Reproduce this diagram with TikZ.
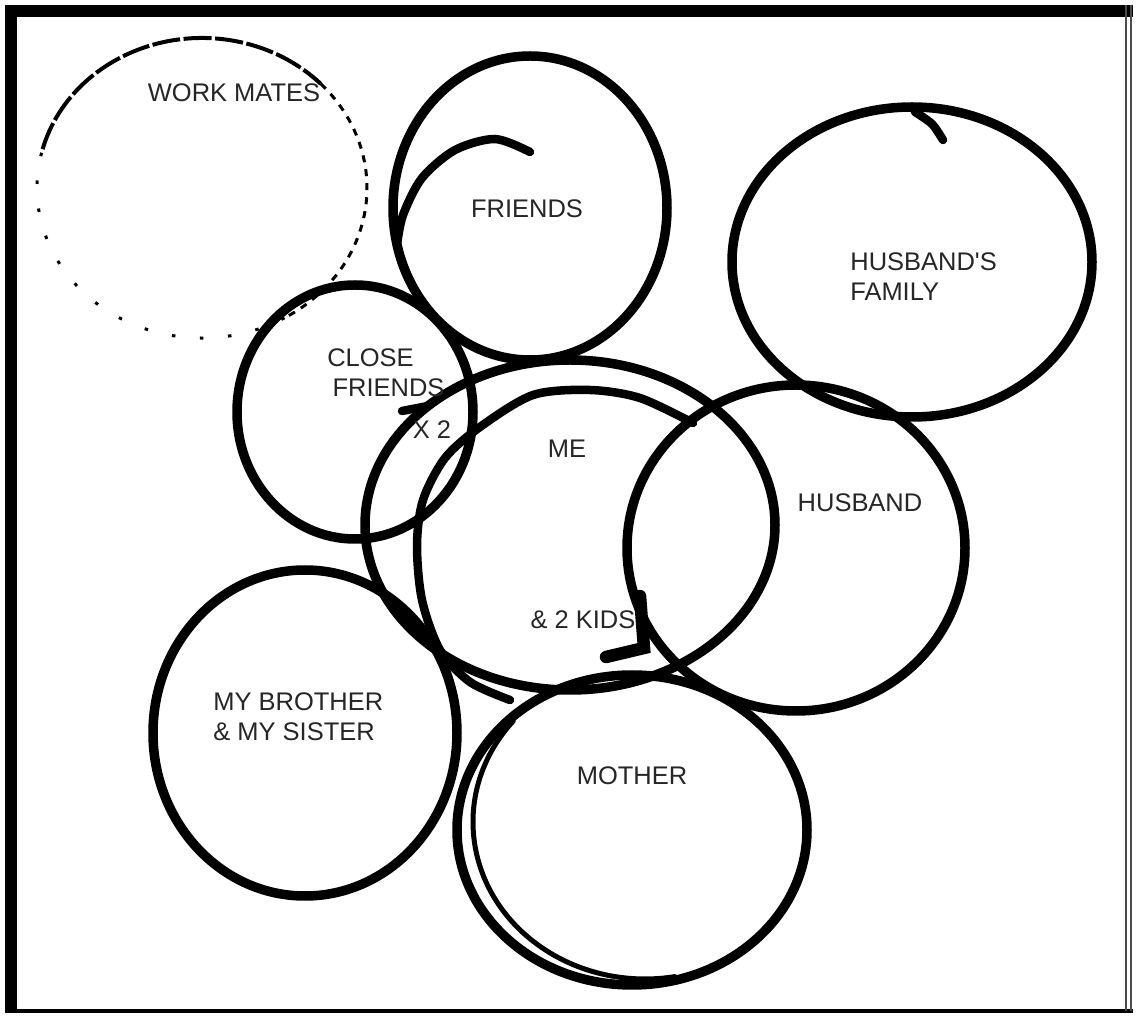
\documentclass[tikz,border=0pt]{standalone}
\usepackage{fontspec}
\setmainfont{Liberation Sans}

\begin{document}
\begin{tikzpicture}[x=0.02cm, y=-0.02cm,
  ringline/.style={line width=0.19cm, draw=black, line cap=round},
  tailline/.style={line width=0.17cm, draw=black, line cap=round},
  mateline/.style={line width=0.06cm, draw=black},
  lbl/.style={font=\fontsize{14.5}{17.5}\selectfont, inner sep=0pt, text=black!85}]
  \useasboundingbox (0,0) rectangle (1137,1016);
  % frame
  \draw[line width=0.24cm] (5,11) -- (1133,11);
  \draw[line width=0.24cm] (11,5) -- (11,1013);
  \draw[line width=0.07cm] (5,1011) -- (1133,1011);
  \draw[line width=0.04cm, black!70] (1126,5) -- (1126,1011);
  \draw[line width=0.04cm, black!70] (1131,5) -- (1131,1011);

  % work mates, faint
  \draw[mateline, line width=0.08cm, dash pattern=on 16pt off 2pt]
    (202,188) ++(195:165 and 150) arc[start angle=195, end angle=316, x radius=165, y radius=150];
  \draw[mateline, dash pattern=on 4pt off 4pt]
    (202,188) ++(316:165 and 150) arc[start angle=316, end angle=420, x radius=165, y radius=150];
  \draw[mateline, dash pattern=on 2pt off 14pt]
    (202,188) ++(60:165 and 150) arc[start angle=60, end angle=195, x radius=165, y radius=150];

  % rings
  \draw[ringline] (530,208) ellipse [x radius=137, y radius=152];
  \draw[tailline] plot[smooth] coordinates {(530,152) (495,139) (455,150) (422,178) (403,215) (397,245)};
  \draw[ringline] (912,262) ellipse [x radius=180, y radius=155];
  \draw[tailline] plot[smooth] coordinates {(943,140) (932,124) (915,112)};
  \draw[ringline] (355,412) ellipse [x radius=118, y radius=127];
  \draw[ringline] (570,525) ellipse [x radius=205, y radius=165];
  \draw[tailline] (402,411) -- (428,406);
  \draw[tailline] plot[smooth] coordinates {(693,423) (640,398) (590,390) (533,395) (480,427)
    (445,458) (423,500) (417,545) (422,600) (440,650) (470,682) (510,700)};
  \draw[ringline] (796,548) ellipse [x radius=169, y radius=163];
  \draw[tailline, line width=0.25cm] (640,596) -- (644,648) -- (606,657);
  \draw[ringline] (305,733) ellipse [x radius=152, y radius=163];
  \draw[ringline] (632,830) ellipse [x radius=175, y radius=155];
  \draw[tailline, line width=0.1cm]
    (645,822) ++(220:172 and 157) arc[start angle=220, end angle=80, x radius=172, y radius=157];

  % labels
  \node[lbl] (mates) at (234,93) {WORK MATES};
  \node[lbl] (friends) at (527,209) {FRIENDS};
  \node[lbl, align=left, anchor=north west] (hfamily) at (850,252) {HUSBAND\textquotesingle S\\FAMILY};
  \node[lbl, align=left, anchor=north west] (close) at (327,348) {CLOSE\\\hspace*{3pt}FRIENDS};
  \node[lbl] (times) at (432,430) {X 2};
  \node[lbl] (me) at (567,449) {ME};
  \node[lbl] (kids) at (583,620) {\& 2 KIDS};
  \node[lbl] (husband) at (860,503) {HUSBAND};
  \node[lbl, align=left, anchor=north west] (siblings) at (213,692) {MY BROTHER\\\& MY SISTER};
  \node[lbl] (mother) at (632,776) {MOTHER};
\end{tikzpicture}
\end{document}
